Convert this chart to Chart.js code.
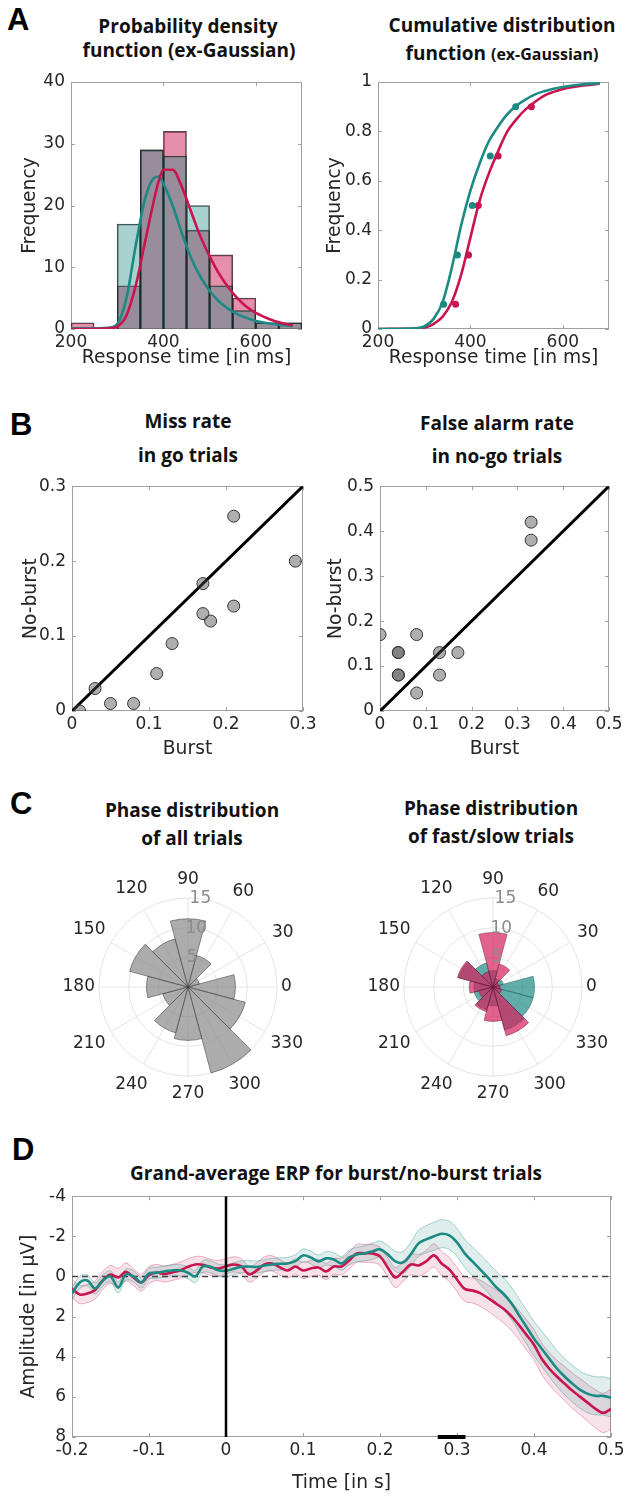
<!DOCTYPE html>
<html><head><meta charset="utf-8">
<script src="https://cdn.jsdelivr.net/npm/chart.js@4.4.1/dist/chart.umd.min.js"></script>
<style>
html,body{margin:0;padding:0;background:#fff;}
body{width:628px;height:1498px;position:relative;overflow:hidden;}
canvas.c{position:absolute;}
.t{position:absolute;font-family:"Open Sans",Lato,sans-serif;font-weight:700;font-size:19px;color:#111;white-space:nowrap;transform:translate(-50%,-50%);line-height:1;}
.L{position:absolute;font-family:"Liberation Sans",Arial,sans-serif;font-weight:700;font-size:31px;line-height:1;color:#000;}
</style></head><body>
<div class="L" style="left:7px;top:4px">A</div>
<div class="t" style="left:188px;top:26px">Probability density</div>
<div class="t" style="left:189px;top:50px">function (ex-Gaussian)</div>
<div class="t" style="left:502px;top:25px">Cumulative distribution</div>
<div class="t" style="left:502px;top:53px">function <span style="font-size:16px">(ex-Gaussian)</span></div>

<div class="L" style="left:10px;top:409px">B</div>
<div class="t" style="left:188px;top:421px">Miss rate</div>
<div class="t" style="left:188px;top:455px">in go trials</div>
<div class="t" style="left:497px;top:423px">False alarm rate</div>
<div class="t" style="left:497px;top:456px">in no-go trials</div>

<div class="L" style="left:10px;top:788px">C</div>
<div class="t" style="left:192px;top:810px">Phase distribution</div>
<div class="t" style="left:192px;top:838px">of all trials</div>
<div class="t" style="left:491px;top:808px">Phase distribution</div>
<div class="t" style="left:491px;top:836px">of fast/slow trials</div>

<div class="L" style="left:12px;top:1134px">D</div>
<div class="t" style="left:336px;top:1173px">Grand-average ERP for burst/no-burst trials</div>

<canvas id="cA1" class="c"></canvas>
<canvas id="cA2" class="c"></canvas>
<canvas id="cB1" class="c"></canvas>
<canvas id="cB2" class="c"></canvas>
<canvas id="cC1" class="c"></canvas>
<canvas id="cC2" class="c"></canvas>
<canvas id="cD" class="c"></canvas>
<script>
// ---------------- DATA ----------------
// A: histogram (bin centres, 50 ms bins)
const histBinCenters = [225,275,325,375,425,475,525,575,625,675];
const histTeal    = [0,0,17,29,28,20,7,3,1,1];
const histCrimson = [1,0,7,29,32,16,12,5,1,1];
// A: fitted ex-Gaussian density
const pdfTimes   = [200,240,280,300,320,340,360,380,390,400,420,440,460,480,500,520,540,560,580,600,620,640,660,680];
const pdfTeal    = [0.1,0.1,0.2,0.8,5,13.5,21,24.5,24.7,23.5,20,15.5,11.5,8.5,6.2,4.5,3.3,2.4,1.8,1.3,1.0,0.8,0.6,0.5];
const pdfCrimson = [0,0,0.1,0.4,2.2,7,14,21,24,25.8,25.8,23,19,15,11.8,9,6.8,5,3.6,2.6,1.9,1.3,0.9,0.6];
// A: cumulative distribution
const cdfTimes   = [200,280,300,320,340,360,380,400,420,440,460,480,500,520,540,560,580,600,640,680];
const cdfTeal    = [0,0.003,0.01,0.04,0.11,0.25,0.42,0.56,0.67,0.76,0.82,0.87,0.905,0.93,0.95,0.963,0.973,0.98,0.99,0.995];
const cdfCrimson = [0,0.002,0.005,0.02,0.05,0.11,0.22,0.37,0.52,0.63,0.72,0.8,0.85,0.89,0.92,0.945,0.96,0.972,0.985,0.993];
const quantileLevels = [0.1,0.3,0.5,0.7,0.9];
const quantTeal    = [342,372,404,443,498];
const quantCrimson = [368,396,417,460,532];
// B: miss rate
const missBurst   = [0.01,0.03,0.05,0.08,0.11,0.13,0.17,0.17,0.18,0.21,0.21,0.29];
const missNoBurst = [0,0.03,0.01,0.01,0.05,0.09,0.17,0.13,0.12,0.26,0.14,0.2];
const missDiag = [0,0.3];
// B: false alarm rate
const faBurst   = [0,0.04,0.04,0.04,0.04,0.08,0.08,0.13,0.13,0.17,0.33,0.33];
const faNoBurst = [0.17,0.13,0.13,0.08,0.08,0.17,0.04,0.13,0.08,0.13,0.42,0.38];
const faDiag = [0,0.5];
// C: phase histograms, bins centred at these angles (deg)
const phaseBins    = [0,330,300,270,240,210,180,150,120,90,60,30];
const phaseAll     = [8,10,15,9,8,4.4,7,10.2,8.4,11.5,5.5,2];
const phaseCrimson = [1.2,1.5,8.5,5.8,4.3,2.5,4,6.2,2.7,9.2,4,1];
const phaseTeal    = [7,7,7.5,3.2,4,3.3,3.2,6,4.2,2.8,1.5,1.8];
const polarAngleTicks = [0,30,60,90,120,150,180,210,240,270,300,330];
const polarRadialTicks = [5,10,15];
// D: grand-average ERP
const erpTime = [-0.2,-0.19,-0.18,-0.17,-0.16,-0.15,-0.14,-0.13,-0.12,-0.11,-0.1,-0.09,-0.08,-0.07,-0.06,-0.05,-0.04,-0.03,-0.02,-0.01,
  0,0.01,0.02,0.03,0.04,0.05,0.06,0.07,0.08,0.09,0.1,0.11,0.12,0.13,0.14,0.15,0.16,0.17,0.18,0.19,
  0.2,0.21,0.22,0.23,0.24,0.25,0.26,0.27,0.28,0.29,0.3,0.31,0.32,0.33,0.34,0.35,0.36,0.37,0.38,0.39,
  0.4,0.41,0.42,0.43,0.44,0.45,0.46,0.47,0.48,0.49,0.5];
const erpTeal = [0.85,0.3,0.2,0.6,0.2,0.0,0.55,-0.1,0.0,0.3,-0.15,-0.18,-0.25,-0.3,-0.31,-0.2,0.0,-0.5,-0.48,-0.31,
  -0.28,-0.38,-0.48,-0.5,-0.47,-0.55,-0.6,-0.63,-0.65,-0.76,-1.05,-0.95,-0.75,-0.9,-0.85,-0.65,-0.95,-1.1,-1.15,-1.25,
  -1.35,-1.1,-0.75,-0.7,-1.1,-1.65,-1.85,-2.0,-2.13,-2.05,-1.7,-1.15,-0.75,-0.35,0.05,0.5,0.85,1.3,1.9,2.5,
  3.1,3.6,4.1,4.6,5.0,5.35,5.65,5.85,5.95,5.95,6.05];
const erpCrimson = [0.6,0.9,0.85,0.67,0.2,-0.1,0.05,-0.23,0.05,0.3,-0.07,-0.2,-0.12,-0.2,-0.3,-0.47,-0.6,-0.58,-0.45,-0.4,
  -0.5,-0.6,-0.5,-0.1,-0.3,-0.6,-0.65,-0.45,-0.3,-0.5,-0.3,-0.4,-0.45,-0.25,-0.5,-0.5,-0.8,-1.15,-1.15,-1.15,
  -1.0,-0.45,0.05,-0.25,-0.6,-0.55,-0.75,-1.05,-0.65,-0.35,0.15,0.62,0.7,0.83,1.07,1.33,1.6,1.95,2.4,2.9,
  3.4,4.1,4.6,5.0,5.35,5.7,6.0,6.3,6.6,6.8,6.6];
const erpTealSE = [0.3,0.3,0.28,0.28,0.28,0.28,0.28,0.28,0.28,0.28,0.28,0.28,0.28,0.28,0.28,0.3,0.3,0.3,0.3,0.3,
  0.3,0.3,0.3,0.3,0.3,0.3,0.3,0.3,0.3,0.32,0.32,0.32,0.32,0.34,0.34,0.34,0.36,0.36,0.38,0.4,
  0.42,0.45,0.5,0.55,0.6,0.65,0.68,0.7,0.7,0.7,0.7,0.7,0.72,0.75,0.75,0.78,0.8,0.8,0.82,0.85,
  0.85,0.88,0.9,0.9,0.9,0.92,0.92,0.95,0.95,0.95,0.95];
const erpCrimsonSE = [0.45,0.45,0.45,0.45,0.45,0.45,0.45,0.45,0.42,0.42,0.42,0.4,0.4,0.4,0.4,0.4,0.4,0.4,0.4,0.4,
  0.38,0.38,0.38,0.38,0.38,0.38,0.38,0.38,0.38,0.38,0.4,0.4,0.4,0.4,0.4,0.42,0.42,0.45,0.45,0.45,
  0.45,0.48,0.5,0.5,0.52,0.55,0.55,0.58,0.6,0.6,0.6,0.62,0.62,0.65,0.65,0.68,0.7,0.7,0.72,0.75,
  0.75,0.78,0.8,0.82,0.85,0.88,0.9,0.92,0.95,0.98,1.0];
const sigWindow = [0.275,0.311];
const erpZero = [-0.2,0.5];

// ---------------- STYLE ----------------
const TEAL = 'rgb(27,138,130)';
const CRIMSON = 'rgb(200,20,79)';
const FONT = '"DejaVu Sans", "Liberation Sans", Arial, sans-serif';
const TICK = 17, LABEL = 18.7;
Chart.defaults.font.family = FONT;
Chart.defaults.font.size = TICK;
Chart.defaults.color = '#262626';
Chart.defaults.animation = false;

function place(id, x, y, w, h) {
  const c = document.getElementById(id);
  c.style.left = x + 'px'; c.style.top = y + 'px';
  c.width = w; c.height = h;
  c.style.width = w + 'px'; c.style.height = h + 'px';
  return c.getContext('2d');
}

const boxPlugin = {
  id: 'matlabBox',
  beforeDatasetsDraw(chart) {
    const {ctx, chartArea: a} = chart;
    const xs = chart.scales.x, ys = chart.scales.y;
    ctx.save();
    ctx.strokeStyle = '#a0a0a0'; ctx.lineWidth = 1;
    ctx.strokeRect(Math.round(a.left) + 0.5, Math.round(a.top) + 0.5, Math.round(a.right - a.left) - 1, Math.round(a.bottom - a.top) - 1);
    const L = 4;
    ctx.beginPath();
    xs.ticks.forEach(t => { const p = Math.round(xs.getPixelForValue(t.value)) + 0.5;
      ctx.moveTo(p, a.bottom); ctx.lineTo(p, a.bottom - L); ctx.moveTo(p, a.top); ctx.lineTo(p, a.top + L); });
    ys.ticks.forEach(t => { const p = Math.round(ys.getPixelForValue(t.value)) + 0.5;
      ctx.moveTo(a.left, p); ctx.lineTo(a.left + L, p); ctx.moveTo(a.right, p); ctx.lineTo(a.right - L, p); });
    ctx.stroke();
    ctx.restore();
  }
};

function cart(box, plot, x, y) {
  return {
    responsive: false, maintainAspectRatio: false, animation: false, events: [],
    layout: {padding: {left: 0, top: plot.t - box.y, right: box.x + box.w - plot.r, bottom: 0}},
    plugins: {legend: {display: false}, tooltip: {enabled: false}},
    scales: {
      x: Object.assign({type: 'linear', offset: false, grid: {display: false, drawTicks: false}, border: {display: false},
        afterFit: s => { s.height = box.y + box.h - plot.b; }}, x),
      y: Object.assign({type: 'linear', grid: {display: false, drawTicks: false}, border: {display: false},
        afterFit: s => { s.width = plot.l - box.x; }}, y)
    }
  };
}
const fmt1 = v => String(Math.round(v * 10) / 10);
const ttl = (text, pad) => ({display: true, text: text, font: {size: LABEL}, color: '#262626', padding: pad});

// ---------------- A left ----------------
(function () {
  const box = {x: 0, y: 62, w: 320, h: 313}, plot = {l: 71, t: 82, r: 302, b: 329};
  const nz = v => v === 0 ? null : v;
  new Chart(place('cA1', box.x, box.y, box.w, box.h), {
    type: 'bar',
    data: {datasets: [
      {type: 'line', data: pdfTimes.map((t, i) => ({x: t, y: pdfTeal[i]})), borderColor: TEAL, borderWidth: 2.6, pointRadius: 0, cubicInterpolationMode: 'monotone', order: 1},
      {type: 'line', data: pdfTimes.map((t, i) => ({x: t, y: pdfCrimson[i]})), borderColor: CRIMSON, borderWidth: 2.6, pointRadius: 0, cubicInterpolationMode: 'monotone', order: 0},
      {data: histBinCenters.map((c, i) => ({x: c, y: nz(histTeal[i])})), backgroundColor: 'rgba(27,138,130,0.38)', borderColor: 'rgba(30,30,30,0.8)', borderWidth: 0.9, grouped: false, barPercentage: 1, categoryPercentage: 1, order: 2},
      {data: histBinCenters.map((c, i) => ({x: c, y: nz(histCrimson[i])})), backgroundColor: 'rgba(200,20,79,0.48)', borderColor: 'rgba(30,30,30,0.8)', borderWidth: 0.9, grouped: false, barPercentage: 1, categoryPercentage: 1, order: 3}
    ]},
    options: cart(box, plot,
      {min: 200, max: 700, ticks: {stepSize: 200, includeBounds: false, padding: 3}, title: ttl('Response time [in ms]', {top: 0, bottom: 6})},
      {min: 0, max: 40, ticks: {stepSize: 10, padding: 6}, title: ttl('Frequency', {top: 19, bottom: 0})}),
    plugins: [boxPlugin]
  });
})();

// ---------------- A right ----------------
(function () {
  const box = {x: 310, y: 62, w: 318, h: 313}, plot = {l: 378, t: 82, r: 609, b: 329};
  new Chart(place('cA2', box.x, box.y, box.w, box.h), {
    type: 'line',
    data: {datasets: [
      {data: quantTeal.map((x, i) => ({x: x, y: quantileLevels[i]})), showLine: false, pointRadius: 3.5, pointBackgroundColor: TEAL, pointBorderWidth: 0},
      {data: quantCrimson.map((x, i) => ({x: x, y: quantileLevels[i]})), showLine: false, pointRadius: 3.5, pointBackgroundColor: CRIMSON, pointBorderWidth: 0},
      {data: cdfTimes.map((t, i) => ({x: t, y: cdfTeal[i]})), borderColor: TEAL, borderWidth: 2.6, pointRadius: 0, cubicInterpolationMode: 'monotone'},
      {data: cdfTimes.map((t, i) => ({x: t, y: cdfCrimson[i]})), borderColor: CRIMSON, borderWidth: 2.6, pointRadius: 0, cubicInterpolationMode: 'monotone'}
    ]},
    options: cart(box, plot,
      {min: 200, max: 700, ticks: {stepSize: 200, includeBounds: false, padding: 3}, title: ttl('Response time [in ms]', {top: 0, bottom: 6})},
      {min: 0, max: 1, ticks: {stepSize: 0.2, padding: 6, callback: fmt1}, title: ttl('Frequency', {top: 14, bottom: 0})}),
    plugins: [boxPlugin]
  });
})();

// ---------------- B ----------------
function scatterPanel(id, box, plot, bx, by, diag, max, tpad) {
  new Chart(place(id, box.x, box.y, box.w, box.h), {
    type: 'scatter',
    data: {datasets: [
      {data: bx.map((v, i) => ({x: v, y: by[i]})), pointRadius: 6, pointBackgroundColor: 'rgba(72,72,72,0.44)', pointBorderColor: '#333', pointBorderWidth: 1},
      {type: 'line', data: diag.map(v => ({x: v, y: v})), borderColor: '#000', borderWidth: 3, pointRadius: 0}
    ]},
    options: cart(box, plot,
      {min: 0, max: max, ticks: {stepSize: 0.1, padding: 3, callback: fmt1}, title: ttl('Burst', {top: 0, bottom: 2})},
      {min: 0, max: max, ticks: {stepSize: 0.1, padding: 6, callback: fmt1}, title: ttl('No-burst', {top: tpad, bottom: 0})}),
    plugins: [boxPlugin]
  });
}
scatterPanel('cB1', {x: 0, y: 470, w: 320, h: 292}, {l: 72, t: 480, r: 303, b: 711}, missBurst, missNoBurst, missDiag, 0.3, 20);
scatterPanel('cB2', {x: 310, y: 470, w: 318, h: 292}, {l: 380, t: 482, r: 609, b: 711}, faBurst, faNoBurst, faDiag, 0.5, 15);

// ---------------- C ----------------
const polarDeco = {
  id: 'polarDeco',
  beforeDatasetsDraw(chart) {
    const s = chart.scales.r, ctx = chart.ctx;
    const R = s.getDistanceFromCenterForValue(s.max);
    ctx.save(); ctx.strokeStyle = '#e4e4e4'; ctx.lineWidth = 1;
    polarAngleTicks.forEach(a => { const t = a * Math.PI / 180;
      ctx.beginPath(); ctx.moveTo(s.xCenter, s.yCenter); ctx.lineTo(s.xCenter + R * Math.cos(t), s.yCenter - R * Math.sin(t)); ctx.stroke(); });
    ctx.restore();
  },
  afterDatasetsDraw(chart) {
    const s = chart.scales.r, ctx = chart.ctx;
    const R = s.getDistanceFromCenterForValue(s.max);
    ctx.save();
    ctx.font = TICK + 'px ' + FONT;
    ctx.textAlign = 'center'; ctx.textBaseline = 'middle';
    ctx.fillStyle = '#8c8c8c';
    const ra = 82 * Math.PI / 180;
    polarRadialTicks.forEach(v => { const r = s.getDistanceFromCenterForValue(v);
      ctx.fillText(String(v), s.xCenter + r * Math.cos(ra), s.yCenter - r * Math.sin(ra)); });
    ctx.fillStyle = '#262626';
    polarAngleTicks.forEach(a => { const t = a * Math.PI / 180, txt = String(a);
      const w = ctx.measureText(txt).width, h = 16;
      const r = R + 4 + Math.abs(Math.cos(t)) * w / 2 + Math.abs(Math.sin(t)) * (h / 2 + 6);
      ctx.fillText(txt, s.xCenter + r * Math.cos(t), s.yCenter - r * Math.sin(t)); });
    ctx.restore();
  }
};
function polarOpts(pad) {
  return {
    responsive: false, animation: false, events: [], startAngle: 75,
    layout: {padding: pad},
    plugins: {legend: {display: false}, tooltip: {enabled: false}},
    scales: {r: {min: 0, max: 15, startAngle: 75, ticks: {display: false, stepSize: 5},
      grid: {color: '#e4e4e4', circular: true, lineWidth: 1}, angleLines: {display: false}, pointLabels: {display: false}}}
  };
}
new Chart(place('cC1', 0, 850, 314, 260), {
  type: 'polarArea',
  data: {labels: phaseBins.map(String), datasets: [
    {data: phaseAll, backgroundColor: 'rgba(140,140,140,0.72)', borderColor: 'rgba(60,60,60,0.9)', borderWidth: 0.6}
  ]},
  options: polarOpts({left: 99, right: 37, top: 48, bottom: 34}),
  plugins: [polarDeco]
});
new Chart(place('cC2', 314, 850, 314, 260), {
  type: 'polarArea',
  data: {labels: phaseBins.map(String), datasets: [
    {data: phaseCrimson, backgroundColor: 'rgba(212,32,92,0.7)', borderColor: 'rgba(90,20,50,0.7)', borderWidth: 0.6},
    {data: phaseTeal, backgroundColor: 'rgba(30,138,132,0.7)', borderColor: 'rgba(20,70,70,0.7)', borderWidth: 0.6}
  ]},
  options: polarOpts({left: 90, right: 46, top: 48, bottom: 34}),
  plugins: [polarDeco]
});

// ---------------- D ----------------
(function () {
  const box = {x: 0, y: 1180, w: 628, h: 318}, plot = {l: 72, t: 1191, r: 611, b: 1437};
  const pts = (arr) => erpTime.map((t, i) => ({x: t, y: arr[i]}));
  const band = (m, se, sgn) => erpTime.map((t, i) => ({x: t, y: m[i] + sgn * se[i]}));
  new Chart(place('cD', box.x, box.y, box.w, box.h), {
    type: 'line',
    data: {datasets: [
      {data: sigWindow.map(t => ({x: t, y: 8})), borderColor: '#000', borderWidth: 4, pointRadius: 0, clip: false},
      {data: [{x: 0, y: -4}, {x: 0, y: 8}], borderColor: '#000', borderWidth: 2.5, pointRadius: 0},
      {data: pts(erpTeal), borderColor: TEAL, borderWidth: 2.6, pointRadius: 0, tension: 0.35},
      {data: pts(erpCrimson), borderColor: CRIMSON, borderWidth: 2.6, pointRadius: 0, tension: 0.35},
      {data: erpZero.map(t => ({x: t, y: 0})), borderColor: '#444', borderWidth: 1.4, borderDash: [6, 4], pointRadius: 0},
      {data: band(erpTeal, erpTealSE, -1), borderColor: 'rgba(27,138,130,0.45)', borderWidth: 0.8, pointRadius: 0, tension: 0.35},
      {data: band(erpTeal, erpTealSE, 1), borderColor: 'rgba(27,138,130,0.45)', borderWidth: 0.8, pointRadius: 0, tension: 0.35, fill: '-1', backgroundColor: 'rgba(27,138,130,0.14)'},
      {data: band(erpCrimson, erpCrimsonSE, -1), borderColor: 'rgba(200,20,79,0.4)', borderWidth: 0.8, pointRadius: 0, tension: 0.35},
      {data: band(erpCrimson, erpCrimsonSE, 1), borderColor: 'rgba(200,20,79,0.4)', borderWidth: 0.8, pointRadius: 0, tension: 0.35, fill: '-1', backgroundColor: 'rgba(200,20,79,0.12)'}
    ]},
    options: cart(box, plot,
      {min: -0.2, max: 0.5, ticks: {stepSize: 0.1, padding: 3, callback: fmt1}, title: ttl('Time [in s]', {top: 0, bottom: 4})},
      {min: -4, max: 8, reverse: true, ticks: {stepSize: 2, padding: 6}, title: ttl('Amplitude [in μV]', {top: 18, bottom: 0})}),
    plugins: [boxPlugin]
  });
})();
</script>
</body></html>
